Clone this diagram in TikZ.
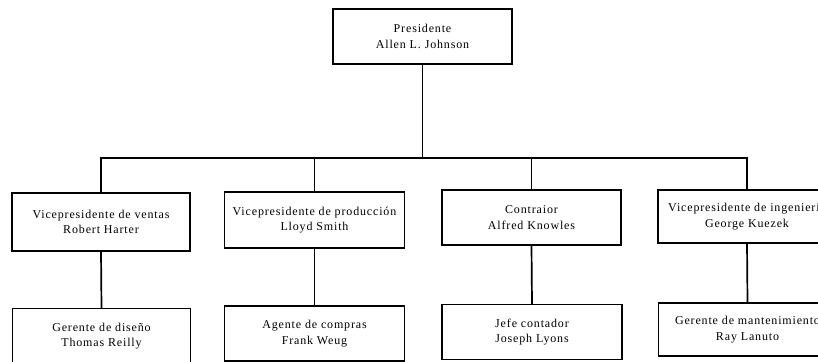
\documentclass[tikz,border=0pt]{standalone}
\usepackage{fontspec}
\setmainfont{Liberation Serif}[LetterSpace=7]
\begin{document}
\begin{tikzpicture}[x=1pt,y=1pt,
  box/.style={draw, line width=1.3pt, minimum width=178pt, minimum height=55pt,
    align=center, inner sep=0pt, font=\fontsize{12}{15.5}\selectfont},
  conn/.style={line width=1.7pt}]
\useasboundingbox (0,0) rectangle (818,361);
% top
\node[box, minimum width=179pt] (pres) at (422.5,324.5) {Presidente\\Allen L. Johnson};
% vice presidents
\node[box, minimum height=58pt] (vp1) at (101,139) {Vicepresidente de ventas\\Robert Harter};
\node[box, minimum width=180pt, minimum height=56pt] (vp2) at (314.5,141) {Vicepresidente de producción\\Lloyd Smith};
\node[box, minimum width=179pt] (vp3) at (531.5,143.5) {Contraior\\Alfred Knowles};
\node[box, minimum height=53pt] (vp4) at (747,144.5) {Vicepresidente de ingeniería\\George Kuezek};
% managers
\node[box] (m1) at (101.5,25) {Gerente de diseño\\Thomas Reilly};
\node[box, minimum width=180pt] (m2) at (314.5,27.5) {Agente de compras\\Frank Weug};
\node[box, minimum width=180pt] (m3) at (532,29) {Jefe contador\\Joseph Lyons};
\node[box, minimum height=53pt] (m4) at (747.5,31.5) {Gerente de mantenimiento\\Ray Lanuto};
% connectors
\coordinate (bus) at (422.5,203);
\draw[conn] (pres.south) -- (pres.south |- bus) -| (vp1.north);
\draw[conn] (pres.south |- bus) -| (vp2.north);
\draw[conn] (pres.south |- bus) -| (vp3.north);
\draw[conn] (pres.south |- bus) -| (vp4.north);
\draw[conn] (vp1.south) -- (m1.north);
\draw[conn] (vp2.south) -- (m2.north);
\draw[conn] (vp3.south) -- (m3.north);
\draw[conn] (vp4.south) -- (m4.north);
\end{tikzpicture}
\end{document}
